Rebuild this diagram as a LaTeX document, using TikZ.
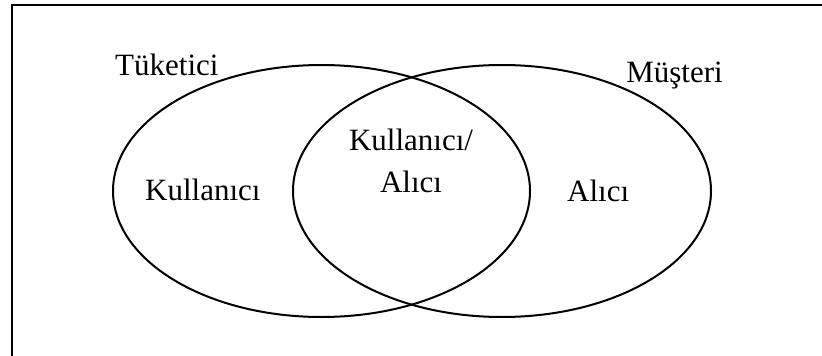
\documentclass[tikz,border=0pt]{standalone}
\usepackage{fontspec}
\setmainfont{Liberation Serif}
\begin{document}
\begin{tikzpicture}[x=1pt,y=-1pt,
  setline/.style={line width=2pt, draw=black},
  setlabel/.style={inner sep=0pt, font=\fontsize{31}{42}\selectfont}]
\useasboundingbox (0,0) rectangle (822,356);
\clip (0,0) rectangle (822,356);
% outer frame (runs past the right and bottom edges)
\draw[setline] (12,5) rectangle (860,400);
% the two overlapping sets
\draw[setline] (321.5,191) ellipse [x radius=208.5, y radius=126];
\draw[setline] (502,191) ellipse [x radius=209, y radius=126];
% set names
\node[setlabel, anchor=base west] (tuketici) at (115,75) {Tüketici};
\node[setlabel, anchor=base east] (musteri) at (723,82) {Müşteri};
% region labels
\node[setlabel, anchor=base west] (kullanici) at (145,200) {Kullanıcı};
\node[setlabel, anchor=base west] (alici) at (567,201) {Alıcı};
\node[setlabel, align=center] (ortak) at (411,160.5) {Kullanıcı/\\Alıcı};
\end{tikzpicture}
\end{document}
